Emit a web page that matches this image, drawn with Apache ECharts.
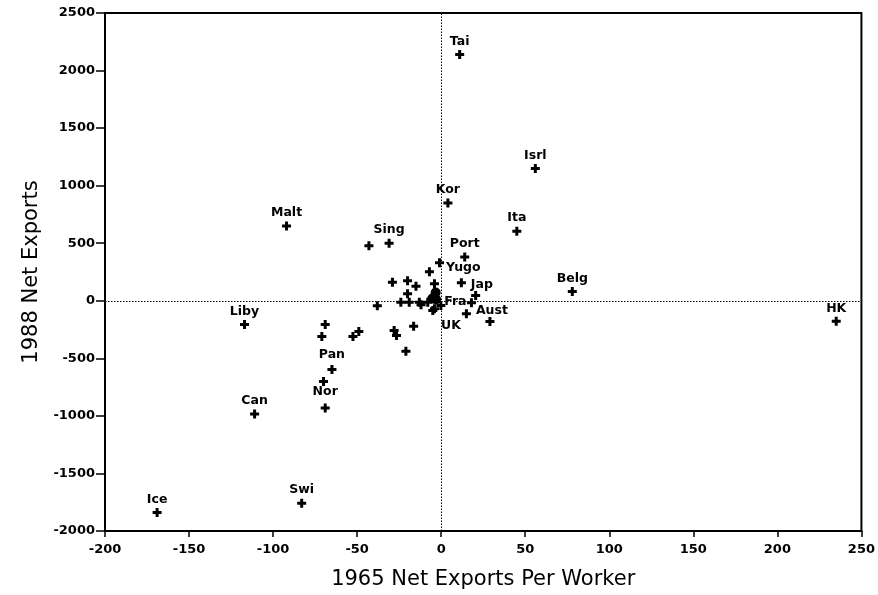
<!DOCTYPE html>
<html>
<head>
<meta charset="utf-8">
<script src="https://cdn.jsdelivr.net/npm/echarts@6/dist/echarts.min.js"></script>
<style>html,body{margin:0;padding:0;background:#fff}#c{width:878px;height:595px}</style>
</head>
<body>
<div id="c"></div>
<script>
// ---- data ----
const pointNames = ['Tai','Isrl','Kor','Malt','Ita','Sing','','Port','Yugo','','','','','','Jap','','Belg','','','','','','','','','','Aust','UK','','HK','','Liby','','','','','','','','','Pan','','Nor','Can','Swi','Ice'];
const x1965 = [11,56,4,-92,45,-31,-43,14,-1,-7,-29,-20,-15,-4,12,20.5,78,-20,-24,-19,-13,-8,-12,-4,-0.2,-5,18,15,29,235,-38,-117,-69,-71,-52.5,-49,-28,-26.6,-16.4,-21,-65,-70,-69,-111,-83,-169];
const y1988 = [2140,1150,850,650,605,500,477,380,330,252,162,174,126,148,157,46,80,61,-12,-12,-12,-12,-35,-70,-41,-84,-17,-113,-180,-178,-44,-206,-206,-311,-311,-267,-258,-302,-221,-439,-596,-702,-931,-983,-1758,-1840];
// overlapping cluster drawn as a solid blob
const blobNames = ['', '', 'Fra'];
const blobX = [-3.3, -5.3, -3];
const blobY = [72, 20, 11];
const xTicks = {min: -200, max: 250, step: 50};
const yTicks = {min: -2000, max: 2500, step: 500};

// ---- label placement (style only) ----
const labelPlace = {
  'Yugo': {position: 'right', distance: 2, offset: [0, 5]},
  'Jap':  {position: 'right', distance: 5, offset: [0, 2]},
  'Fra':  {position: 'right', distance: 3, offset: [0, 2]},
  'Aust': {position: 'right', distance: 0, offset: [0, 8]},
  'UK':   {position: 'left',  distance: 1, offset: [0, 12]},
  'Pan':  {position: 'top',   distance: 4, offset: [0, 0]},
  'Nor':  {position: 'top',   distance: 5, offset: [0, 0]}
};
const labelFont = {fontFamily: 'DejaVu Sans', fontWeight: 'bold', fontSize: 12.5, color: '#000'};

function mkItem(name, x, y) {
  const item = {value: [x, y], name: name};
  if (name) {
    const p = labelPlace[name] || {position: 'top', distance: 2, offset: [0, 0]};
    item.label = Object.assign({show: true, formatter: name}, labelFont, p);
  }
  return item;
}
const pts = pointNames.map((n, i) => mkItem(n, x1965[i], y1988[i]));
const blob = blobNames.map((n, i) => mkItem(n, blobX[i], blobY[i]));

const plus = 'path://M3,0H6V3H9V6H6V9H3V6H0V3H3Z';
const tickFont = {fontFamily: 'DejaVu Sans', fontWeight: 'bold', fontSize: 13, color: '#000'};
const titleFont = {fontFamily: 'DejaVu Sans', fontSize: 21, color: '#000'};
const plain = v => String(v);

const chart = echarts.init(document.getElementById('c'), null, {renderer: 'canvas'});
chart.setOption({
  animation: false,
  backgroundColor: '#fff',
  grid: {left: 105, right: 12, top: 13, bottom: 64, show: true, borderColor: '#000', borderWidth: 2, backgroundColor: 'transparent'},
  xAxis: {
    type: 'value', min: xTicks.min, max: xTicks.max, interval: xTicks.step,
    name: '1965 Net Exports Per Worker', nameLocation: 'middle', nameGap: 38, nameTextStyle: titleFont,
    axisLine: {show: true, onZero: false, lineStyle: {color: '#000', width: 2}},
    axisTick: {show: true, inside: false, length: 6, lineStyle: {color: '#000', width: 1.5}},
    axisLabel: Object.assign({margin: 12, formatter: plain}, tickFont),
    splitLine: {show: false}
  },
  yAxis: {
    type: 'value', min: yTicks.min, max: yTicks.max, interval: yTicks.step,
    name: '1988 Net Exports', nameLocation: 'middle', nameGap: 63, nameRotate: 90, nameTextStyle: titleFont,
    axisLine: {show: true, onZero: false, lineStyle: {color: '#000', width: 2}},
    axisTick: {show: true, inside: false, length: 9, lineStyle: {color: '#000', width: 1.5}},
    axisLabel: Object.assign({margin: 10, formatter: plain}, tickFont),
    splitLine: {show: false}
  },
  series: [
    {
      type: 'scatter', symbol: plus, symbolSize: 9,
      itemStyle: {color: '#000', opacity: 1},
      data: pts,
      markLine: {
        silent: true, symbol: 'none', label: {show: false},
        lineStyle: {color: '#000', type: [1.5, 1.5], width: 1},
        data: [{xAxis: 0}, {yAxis: 0}]
      },
      z: 3
    },
    {
      type: 'scatter', symbol: 'circle', symbolSize: 10,
      itemStyle: {color: '#000', opacity: 1},
      data: blob, z: 4
    }
  ]
});
</script>
</body>
</html>
